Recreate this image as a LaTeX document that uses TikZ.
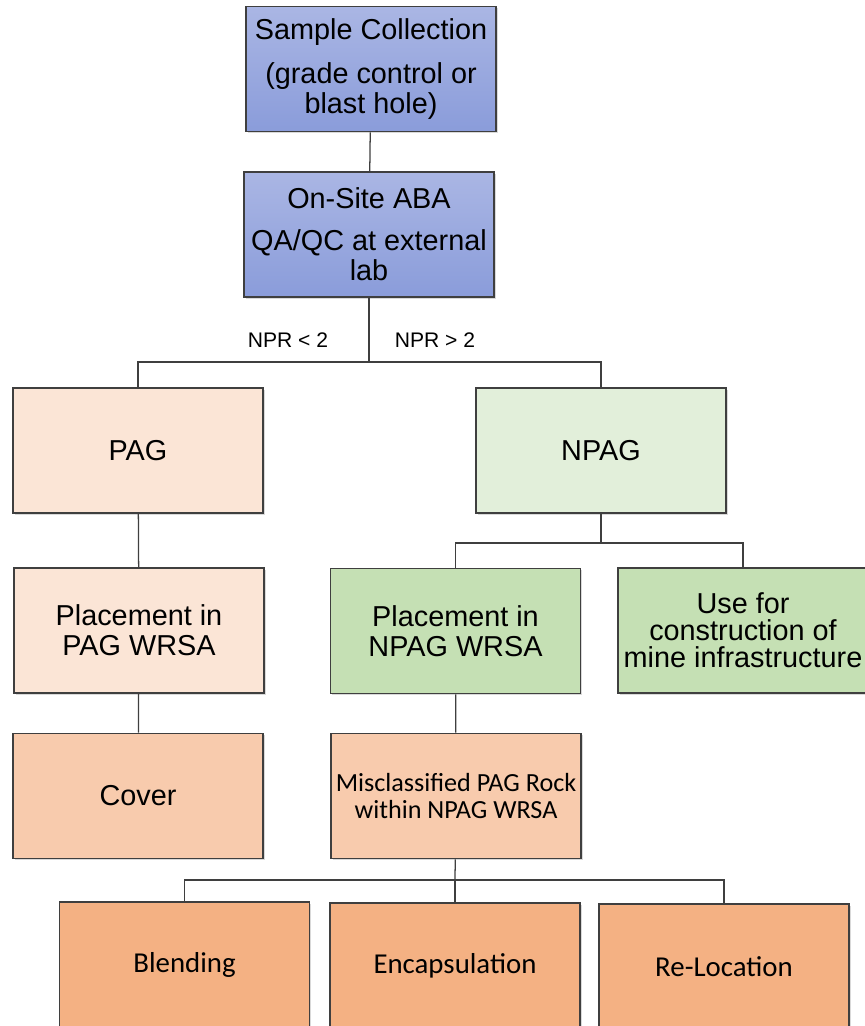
\documentclass[tikz,border=0pt]{standalone}
\usepackage{fontspec}
\setmainfont{Liberation Sans}
\newfontfamily\calibrifont{Carlito}
\usetikzlibrary{positioning,shadows,calc}
\definecolor{boxline}{HTML}{3F3F3F}
\definecolor{blueTop}{RGB}{170,182,228}
\definecolor{blueBot}{RGB}{138,156,218}
\definecolor{pagLight}{HTML}{FBE5D6}
\definecolor{pagMid}{HTML}{F8CBAD}
\definecolor{pagDark}{HTML}{F4B183}
\definecolor{npagLight}{HTML}{E2EFDA}
\definecolor{npagMid}{HTML}{C5E0B4}
\newcommand{\bigtxt}{\fontsize{20.5}{21.3}\selectfont}

\begin{document}
\begin{tikzpicture}[x=0.025cm, y=-0.025cm,
    box/.style={draw=boxline, line width=1.1pt, minimum width=6.25cm, minimum height=3.125cm,
                inner sep=1pt, align=center,
                drop shadow={shadow xshift=1.3pt, shadow yshift=-1.3pt, opacity=0.3}},
    bluebox/.style={box, top color=blueTop, bottom color=blueBot, font=\bigtxt},
    link/.style={draw=boxline, line width=0.9pt}]
        \useasboundingbox (0,0) rectangle (865,1026);
        %nodes
        \node[bluebox] (sample) at (371, 69) {Sample Collection\\[10.5pt]
            \fontsize{20.5}{20}\selectfont (grade control or\\blast hole)};
        \node[bluebox] (aba) at (369, 234.5) {On-Site ABA\\[8.5pt]
            \fontsize{20.5}{19}\selectfont QA/QC at external\\lab};
        \node[box, fill=pagLight, font=\bigtxt] (pag) at (138, 450.5) {PAG};
        \node[box, fill=npagLight, font=\bigtxt] (npag) at (601, 450.5) {NPAG};
        \node[box, fill=pagLight, font=\bigtxt] (placepag) at (139, 630.5) {Placement in\\PAG WRSA};
        \node[box, fill=npagMid, font=\bigtxt] (placenpag) at (455.5, 631) {Placement in\\NPAG WRSA};
        \node[box, fill=npagMid, font=\fontsize{20.5}{19.2}\selectfont] (usefor) at (743, 630.5)
            {Use for\\construction of\\mine infrastructure};
        \node[box, fill=pagMid, font=\bigtxt] (cover) at (138, 796) {Cover};
        \node[box, fill=pagMid, font=\calibrifont\fontsize{18.6}{19.2}\selectfont] (miscl) at (456, 796)
            {Misclassified PAG Rock\\within NPAG WRSA};
        \node[box, fill=pagDark, font=\calibrifont\fontsize{20.5}{21}\selectfont] (blend) at (184.5, 964.5) {Blending};
        \node[box, fill=pagDark, font=\calibrifont\fontsize{20.5}{21}\selectfont] (encap) at (455, 965.5) {Encapsulation};
        \node[box, fill=pagDark, font=\calibrifont\fontsize{20.5}{21}\selectfont] (reloc) at (724, 966.5) {Re-Location};
        %split points
        \coordinate (splitA) at (369, 362);
        \coordinate (splitB) at (601, 543);
        \coordinate (splitC) at (455, 880);
        %edges
        \path[link] (sample) -- (aba);
        \path[link] (aba) -- (splitA);
        \path[link] (pag.north) |- (splitA) -| (npag.north);
        \node[font=\fontsize{15}{15}\selectfont] (nprlow) at (288, 340) {NPR < 2};
        \node[font=\fontsize{15}{15}\selectfont] (nprhigh) at (435, 340) {NPR > 2};
        \path[link] (pag) -- (placepag);
        \path[link] (placepag) -- (cover);
        \path[link] (npag) -- (splitB);
        \path[link] (placenpag.north) |- (splitB) -| (usefor.north);
        \path[link] (placenpag) -- (miscl);
        \path[link] (miscl) -- (splitC);
        \path[link] (blend.north) |- (splitC) -| (reloc.north);
        \path[link] (splitC) -- (encap);
      \end{tikzpicture}
\end{document}
